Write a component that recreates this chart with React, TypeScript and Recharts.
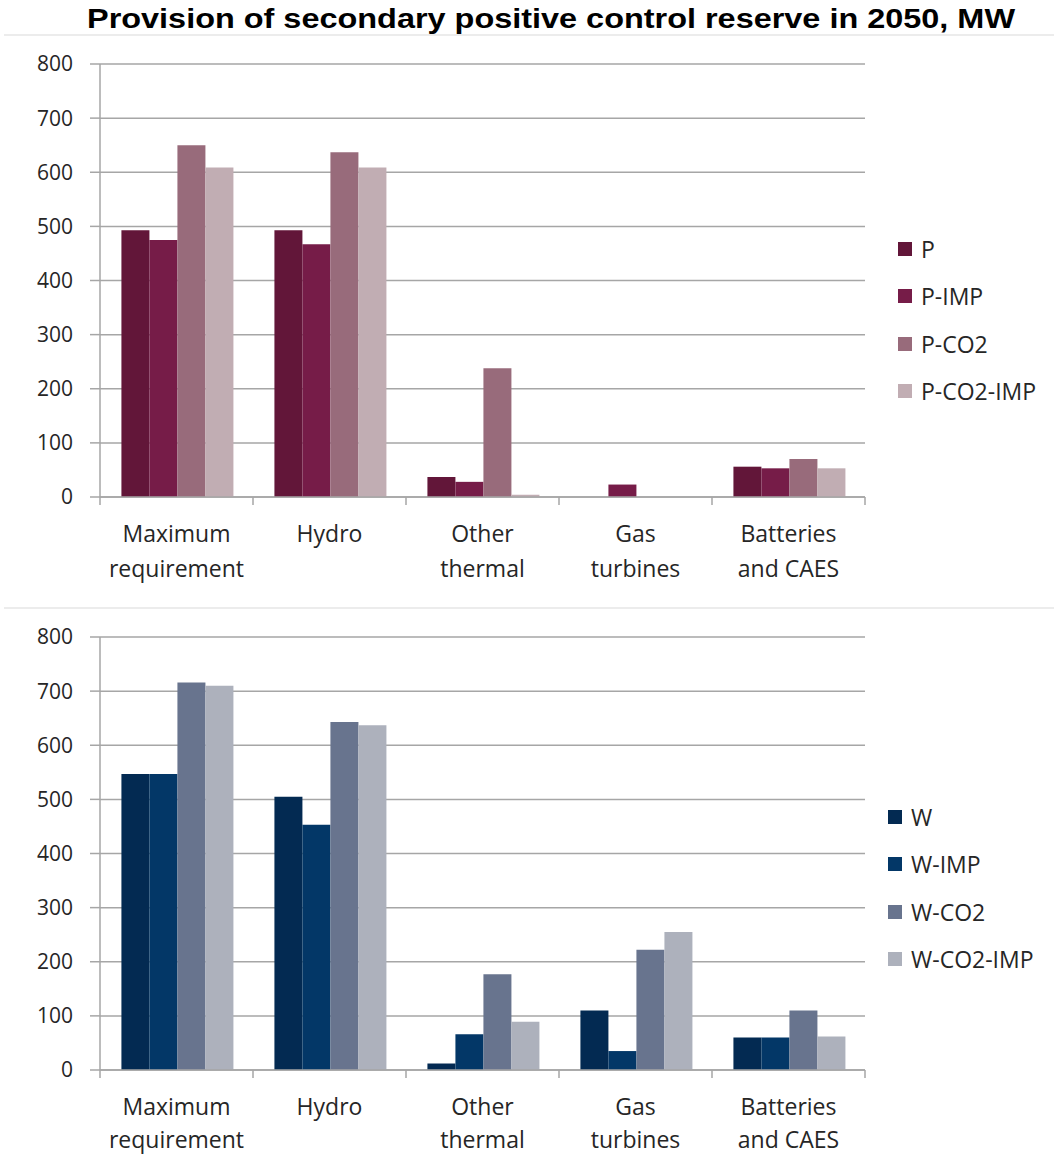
import { Bar, BarChart, CartesianGrid, Legend, XAxis, YAxis } from "recharts";

const categories = ["Maximum requirement", "Hydro", "Other thermal", "Gas turbines", "Batteries and CAES"];
const categoryLines: string[][] = [["Maximum", "requirement"], ["Hydro"], ["Other", "thermal"], ["Gas", "turbines"], ["Batteries", "and CAES"]];

const pSeries = ["P", "P-IMP", "P-CO2", "P-CO2-IMP"];
const pBase = [493, 493, 37, 0, 56];
const pImp = [475, 467, 28, 23, 53];
const pCo2 = [650, 637, 238, 0, 70];
const pCo2Imp = [609, 609, 4, 0, 53];

const wSeries = ["W", "W-IMP", "W-CO2", "W-CO2-IMP"];
const wBase = [547, 505, 12, 110, 60];
const wImp = [547, 453, 66, 35, 60];
const wCo2 = [716, 643, 177, 222, 110];
const wCo2Imp = [710, 637, 89, 255, 62];

const yTicks = [0, 100, 200, 300, 400, 500, 600, 700, 800];

const pColors = ["#621639", "#761c48", "#986b7b", "#c1adb3"];
const wColors = ["#032a52", "#033767", "#68748e", "#adb1bc"];

const FONT = "'Open Sans', 'Noto Sans', sans-serif";
const TEXT = "#262626";
const GRID = "#a6a6a6";
const PLOT_LEFT = 100;
const PLOT_RIGHT = 865;
const BAND = (PLOT_RIGHT - PLOT_LEFT) / categories.length;

function buildRows(names: string[], values: number[][]) {
  return categories.map((c, i) => {
    const row: Record<string, string | number> = { name: c };
    names.forEach((n, k) => {
      row[n] = values[k][i];
    });
    return row;
  });
}

const pData = buildRows(pSeries, [pBase, pImp, pCo2, pCo2Imp]);
const wData = buildRows(wSeries, [wBase, wImp, wCo2, wCo2Imp]);

function CategoryTick(props: any) {
  const { x, y, payload, lineGap } = props;
  const idx = payload.index;
  const lines = categoryLines[idx] || [payload.value];
  const half = BAND / 2;
  return (
    <g>
      <line x1={x - half} x2={x - half} y1={y} y2={y + 8} stroke={GRID} strokeWidth={1.5} />
      {idx === categories.length - 1 && (
        <line x1={x + half} x2={x + half} y1={y} y2={y + 8} stroke={GRID} strokeWidth={1.5} />
      )}
      <text textAnchor="middle" fontFamily={FONT} fontSize={23} fill={TEXT}>
        {lines.map((l, i) => (
          <tspan key={i} x={x} y={y + 45 + i * lineGap}>
            {l}
          </tspan>
        ))}
      </text>
    </g>
  );
}

function SideLegend(props: any) {
  const { payload, order } = props;
  const items = [...(payload || [])].sort(
    (a: any, b: any) => order.indexOf(a.value) - order.indexOf(b.value)
  );
  return (
    <div>
      {items.map((item: any) => (
        <div key={item.value} style={{ height: 47.5, display: "flex", alignItems: "center" }}>
          <span style={{ width: 14, height: 14, background: item.color, marginRight: 9, flex: "none" }} />
          <span style={{ fontFamily: FONT, fontSize: 23, color: TEXT, whiteSpace: "nowrap" }}>{item.value}</span>
        </div>
      ))}
    </div>
  );
}

interface PanelProps {
  top: number;
  height: number;
  marginTop: number;
  axisHeight: number;
  lineGap: number;
  data: Record<string, string | number>[];
  names: string[];
  colors: string[];
  legendLeft: number;
  legendTop: number;
}

function Panel({ top, height, marginTop, axisHeight, lineGap, data, names, colors, legendLeft, legendTop }: PanelProps) {
  const legendWidth = 1054 - legendLeft;
  return (
    <div style={{ position: "absolute", left: 0, top, width: 1054, height }}>
      <BarChart
        width={1054}
        height={height}
        data={data}
        margin={{ top: marginTop, right: 1054 - PLOT_RIGHT - legendWidth, left: 0, bottom: 0 }}
        barCategoryGap="14%"
        barGap={0}
      >
        <CartesianGrid vertical={false} stroke={GRID} strokeWidth={1.5} />
        <XAxis
          dataKey="name"
          interval={0}
          height={axisHeight}
          tickLine={false}
          tickSize={0}
          tickMargin={0}
          axisLine={{ stroke: GRID, strokeWidth: 1.5 }}
          tick={<CategoryTick lineGap={lineGap} />}
        />
        <YAxis
          domain={[0, 800]}
          ticks={yTicks}
          width={PLOT_LEFT}
          tickSize={10}
          tickMargin={17}
          axisLine={{ stroke: GRID, strokeWidth: 1.5 }}
          tickLine={{ stroke: GRID, strokeWidth: 1.5 }}
          tick={{ fill: TEXT, fontSize: 21, fontFamily: FONT }}
        />
        <Legend
          layout="vertical"
          align="right"
          verticalAlign="middle"
          width={legendWidth}
          wrapperStyle={{ left: legendLeft, top: legendTop, width: legendWidth }}
          content={<SideLegend order={names} />}
        />
        {names.map((n, k) => (
          <Bar key={n} dataKey={n} name={n} fill={colors[k]} isAnimationActive={false} />
        ))}
      </BarChart>
    </div>
  );
}

export default function App() {
  return (
    <div style={{ position: "absolute", left: 0, top: 0, width: 1054, height: 1155, background: "#fff", overflow: "hidden" }}>
      <svg width={1054} height={1155} style={{ position: "absolute", left: 0, top: 0 }}>
        <text
          x={87}
          y={28}
          textLength={928}
          lengthAdjust="spacingAndGlyphs"
          fontFamily="'Liberation Sans Narrow', 'Liberation Sans', Arial, sans-serif"
          fontWeight="bold"
          fontSize={28}
          fill="#000"
        >
          Provision of secondary positive control reserve in 2050, MW
        </text>
        <line x1={4} x2={1054} y1={35} y2={35} stroke="#d9d9d9" strokeWidth={1} />
        <line x1={4} x2={1054} y1={608} y2={608} stroke="#d9d9d9" strokeWidth={1} />
      </svg>
      <Panel
        top={37}
        height={568}
        marginTop={27}
        axisHeight={108}
        lineGap={35}
        data={pData}
        names={pSeries}
        colors={pColors}
        legendLeft={898}
        legendTop={188}
      />
      <Panel
        top={610}
        height={545}
        marginTop={27}
        axisHeight={85}
        lineGap={33}
        data={wData}
        names={wSeries}
        colors={wColors}
        legendLeft={888}
        legendTop={183}
      />
    </div>
  );
}
